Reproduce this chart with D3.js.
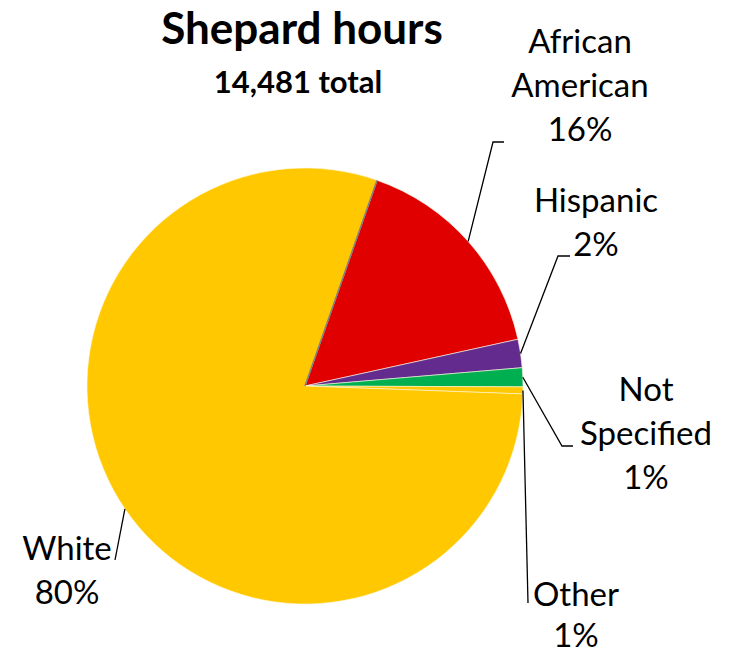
<!DOCTYPE html>
<html>
<head>
<meta charset="utf-8">
<script src="https://cdn.jsdelivr.net/npm/d3@7/dist/d3.min.js"></script>
<style>
  html, body { margin: 0; padding: 0; background: #fff; }
  svg { display: block; }
  text { font-family: Lato, "Open Sans", "DejaVu Sans", sans-serif; fill: #000; }
</style>
</head>
<body>
<svg id="chart" width="734" height="656"></svg>
<script>
// ---- data ----
const categories = ["African American", "Hispanic", "Not Specified", "Other", "White"];
const hours = [2346, 304, 203, 75, 11553];
const colors = ["#E00000", "#632B8D", "#00B050", "#FFC800", "#FFC800"];
const titleText = "Shepard hours";

// ---- layout (label anchors, leader bends) ----
const labelLayout = [
  { lines: ["African", "American"], x: 580, y: 53, bend: [493, 142], end: [504, 142], gap: 44 },
  { lines: ["Hispanic"], x: 596, y: 212, bend: [558, 256], end: [570, 256], gap: 44 },
  { lines: ["Not", "Specified"], x: 646, y: 401, bend: [562, 446], end: [573, 446], gap: 44 },
  { lines: ["Other"], x: 576, y: 606, bend: null, end: [528, 603], gap: 41 },
  { lines: ["White"], x: 67, y: 560, bend: null, end: [115, 560], gap: 44 }
];

const cx = 305, cy = 386, R = 218;
const startDeg = 19.3;

const svg = d3.select("#chart");
const total = d3.sum(hours);

const pie = d3.pie().sort(null).value(d => d)
  .startAngle(startDeg * Math.PI / 180)
  .endAngle(startDeg * Math.PI / 180 + 2 * Math.PI);
const arcs = pie(hours);
const arc = d3.arc().innerRadius(0).outerRadius(R);

const g = svg.append("g").attr("transform", `translate(${cx},${cy})`);
g.selectAll("path.slice").data(arcs).enter().append("path")
  .attr("class", "slice")
  .attr("d", arc)
  .attr("fill", (d, i) => colors[i])
  .attr("stroke", "#fff8e0")
  .attr("stroke-width", 0.6);

// thin gray border at start of first slice
const a0 = arcs[0].startAngle;
g.append("line")
  .attr("x1", 0).attr("y1", 0)
  .attr("x2", R * Math.sin(a0)).attr("y2", -R * Math.cos(a0))
  .attr("stroke", "#7f7f7f").attr("stroke-width", 1.5);

// title
svg.append("text").attr("x", 302).attr("y", 44)
  .attr("text-anchor", "middle").attr("font-weight", "bold").attr("font-size", 44)
  .text(titleText);
svg.append("text").attr("x", 298).attr("y", 93)
  .attr("text-anchor", "middle").attr("font-weight", "bold").attr("font-size", 31)
  .text(d3.format(",")(total) + " total");

// leader lines and labels
const pct = v => Math.round(v / total * 100) + "%";
arcs.forEach((d, i) => {
  const L = labelLayout[i];
  const mid = (d.startAngle + d.endAngle) / 2;
  const p0 = [cx + R * Math.sin(mid), cy - R * Math.cos(mid)];
  const pts = [p0];
  if (L.bend) pts.push(L.bend);
  pts.push(L.end);
  svg.append("path")
    .attr("d", d3.line()(pts))
    .attr("fill", "none").attr("stroke", "#000").attr("stroke-width", 1.3);
  const t = svg.append("text").attr("text-anchor", "middle").attr("font-size", 33);
  const lines = L.lines.concat([pct(d.value)]);
  lines.forEach((s, k) => {
    t.append("tspan").attr("x", L.x).attr("y", L.y + k * L.gap).text(s);
  });
});
</script>
</body>
</html>
